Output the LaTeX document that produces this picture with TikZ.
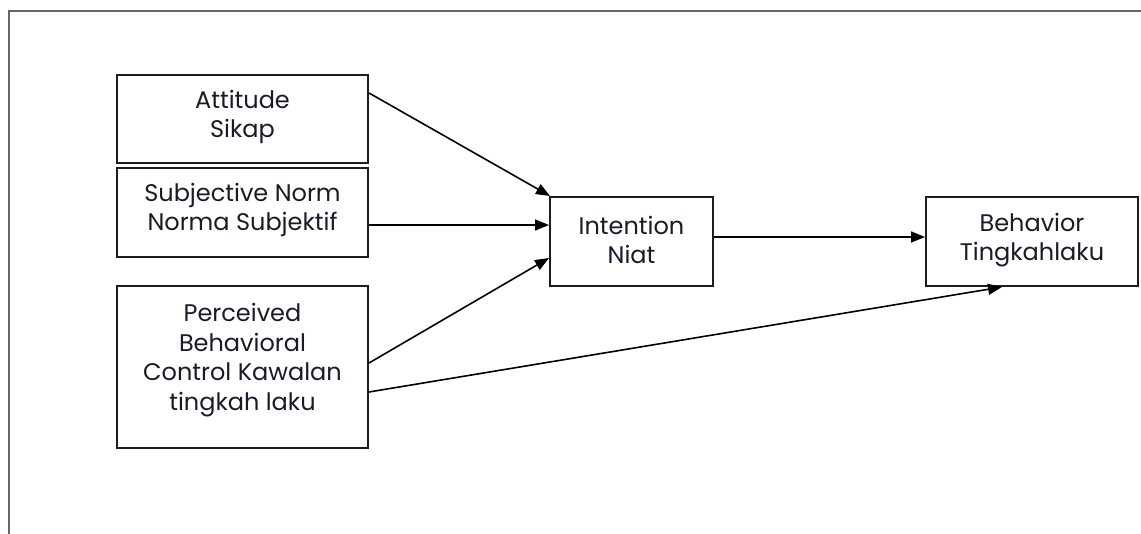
\documentclass[tikz,border=0pt]{standalone}
\usepackage{fontspec}
\setmainfont{Poppins}
\usetikzlibrary{arrows.meta,calc}
\definecolor{framegray}{HTML}{666666}
\definecolor{boxline}{HTML}{1E1E1E}
\definecolor{txtcol}{HTML}{1A1A28}
\begin{document}
\begin{tikzpicture}[x=1pt,y=-1pt,
  box/.style={draw=boxline,line width=2pt,inner sep=0pt,fill=white},
  txt/.style={text=txtcol,align=center,inner sep=0pt,font=\fontsize{24}{29.5}\selectfont},
  conn/.style={draw=black,line width=1.6pt,-{Triangle[length=14pt,width=11pt]}},
  frame/.style={draw=framegray,line width=1.5pt}]
\useasboundingbox (0,0) rectangle (1141,534);
\coordinate (ftl) at (9,11);
\coordinate (ftr) at (1141,11);
\coordinate (fbl) at (9,534);
\draw[frame] (ftr) -- (ftl) -- (fbl);
% boxes
\node[box,minimum width=251pt,minimum height=88pt] (att) at (242.5,119) {};
\node[box,minimum width=251pt,minimum height=89pt] (sn) at (242.5,212.5) {};
\node[box,minimum width=251pt,minimum height=162pt] (pbc) at (242.5,367) {};
\node[box,minimum width=163pt,minimum height=89pt] (int) at (631.5,241.5) {};
\node[box,minimum width=212pt,minimum height=89pt] (beh) at (1032,241.5) {};
% texts
\node[txt] (attt) at (242.5,117) {Attitude\\Sikap};
\node[txt] (snt) at (242.5,210) {Subjective Norm\\Norma Subjektif};
\node[txt] (pbct) at (242.5,360) {Perceived\\Behavioral\\Control Kawalan\\tingkah laku};
\node[txt] (intt) at (631.5,240) {Intention\\Niat};
\node[txt] (beht) at (1032,240) {Behavior\\Tingkahlaku};
% connectors
\draw[conn] ($(att.east)+(0,-26)$) -- ($(int.north west)+(1,0)$);
\draw[conn] ($(sn.east)+(0,12.5)$) -- ($(int.west)+(0,-16.5)$);
\draw[conn] ($(pbc.east)+(0,-4)$) -- ($(int.west)+(0,16.5)$);
\draw[conn] ($(pbc.east)+(0,25)$) -- ($(beh.south west)+(77,0)$);
\draw[conn] ($(int.east)+(0,-4.5)$) -- ($(beh.west)+(0,-4.5)$);
\end{tikzpicture}
\end{document}
